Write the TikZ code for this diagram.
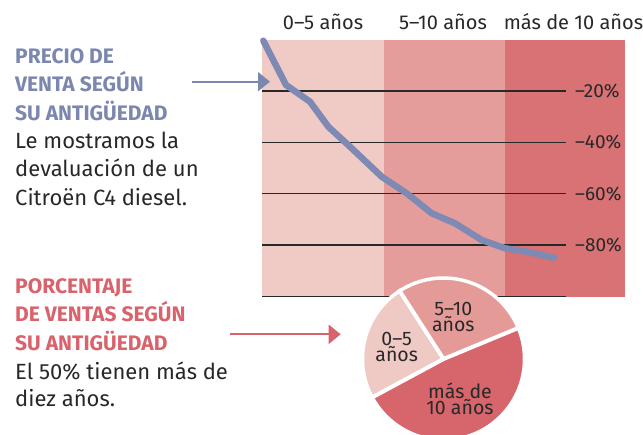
\documentclass[tikz,border=0pt]{standalone}
\usepackage{fontspec}
\setmainfont{Fira Sans}
\usepackage{xcolor}
\usepackage{tikz}
\usetikzlibrary{arrows.meta,positioning}
\definecolor{precioblue}{RGB}{124,135,176}
\definecolor{ventaspink}{RGB}{216,99,108}
\definecolor{curveblue}{RGB}{126,137,180}
\definecolor{bandyoung}{RGB}{240,203,198}
\definecolor{bandmid}{RGB}{228,157,155}
\definecolor{bandold}{RGB}{216,114,116}
\definecolor{pieyoung}{RGB}{239,201,196}
\definecolor{piemid}{RGB}{228,155,152}
\definecolor{pieold}{RGB}{214,101,108}
\definecolor{darktext}{RGB}{40,40,40}

\begin{document}
\begin{tikzpicture}[
    x=1pt, y=-1pt,
    headtext/.style={anchor=base west, align=left, inner sep=0pt, font=\fontsize{21}{28.5}\selectfont\bfseries},
    bodytext/.style={anchor=base west, align=left, inner sep=0pt, text=darktext, font=\fontsize{22}{28.5}\selectfont},
    agelabel/.style={anchor=base, inner sep=0pt, text=darktext, font=\fontsize{20}{25}\selectfont},
    pctlabel/.style={anchor=base west, inner sep=0pt, text=darktext, font=\fontsize{19}{22}\selectfont},
    slicelabel/.style={align=center, anchor=base, inner sep=0pt, text=darktext, font=\fontsize{19.5}{16}\selectfont},
    pointer/.style={-{Triangle[length=12pt,width=19pt]}, line width=2pt},
    gridline/.style={draw=darktext, line width=1.3pt},
    spoke/.style={draw=white, line width=4pt}
]
    \useasboundingbox (0,0) rectangle (643,435);
    \clip (0,0) rectangle (643,435);

    % Age bands
    \fill[bandyoung] (262,40) rectangle (384,297);
    \fill[bandmid] (384,40) rectangle (505,297);
    \fill[bandold] (505,40) rectangle (625,297);
    \node[agelabel] (age05) at (323,30) {0–5 años};
    \node[agelabel] (age510) at (443,30) {5–10 años};
    \node[agelabel] (agemas) at (573.5,30) {más de 10 años};

    % Grid and percentages
    \foreach \y/\p in {91/20, 142.3/40, 193.7/60, 245/80} {
        \draw[gridline] (262,\y) -- (566,\y);
        \node[pctlabel] (pct\p) at (575,\y+6.5) {–\p\%};
    }
    \draw[gridline] (262,296.7) -- (566,296.7);

    % Price curve
    \draw[curveblue, line width=6.5pt, line cap=round, line join=round]
        (263.3,40.7) -- (286,85) -- (310,101.7) -- (328.3,126.7) -- (351.7,148.3)
        -- (381.7,176.7) -- (406.7,193.3) -- (431.7,213.3) -- (455,223.3)
        -- (481.7,240) -- (505,248.3) -- (526.7,251.7) -- (554,257.7);

    % Price text (base = last line)
    \node[headtext, text=precioblue] (preciohead) at (15,120.3) {PRECIO DE\\VENTA SEGÚN\\SU ANTIGÜEDAD};
    \node[bodytext] (preciobody) at (15,205.3) {Le mostramos la\\devaluación de un\\Citroën C4 diesel.};
    \coordinate (preciofrom) at (191.7,81.7);
    \coordinate (precioto) at (270,81.7);
    \draw[pointer, precioblue] (preciofrom) -- (precioto);

    % Sales text
    \node[headtext, text=ventaspink] (ventashead) at (15,350.3) {PORCENTAJE\\DE VENTAS SEGÚN\\SU ANTIGÜEDAD};
    \node[bodytext, font=\fontsize{22}{27}\selectfont] (ventasbody) at (15,407) {El 50\% tienen más de\\diez años.};
    \coordinate (ventasfrom) at (230,334.3);
    \coordinate (ventasto) at (340.7,334.3);
    \draw[pointer, ventaspink] (ventasfrom) -- (ventasto);

    % Pie
    \coordinate (pie) at (443.5,359);
    \fill[pieyoung] (pie) -- ++(-122.8:81) arc[start angle=-122.8, end angle=-208.3, radius=81] -- cycle;
    \fill[piemid] (pie) -- ++(-22.5:81) arc[start angle=-22.5, end angle=-122.8, radius=81] -- cycle;
    \fill[pieold] (pie) -- ++(-208.3:81) arc[start angle=-208.3, end angle=-382.5, radius=81] -- cycle;
    \foreach \a in {-22.5, -122.8, -208.3}
        \draw[spoke] (pie) -- ++(\a:83);
    \draw[white, line width=3.5pt] (pie) circle[radius=81];
    \node[slicelabel] (slice05) at (396.7,362) {0–5\\años};
    \node[slicelabel] (slice510) at (453.3,332) {5–10\\años};
    \node[slicelabel] (slicemas) at (460,414.5) {más de\\10 años};
\end{tikzpicture}
\end{document}
